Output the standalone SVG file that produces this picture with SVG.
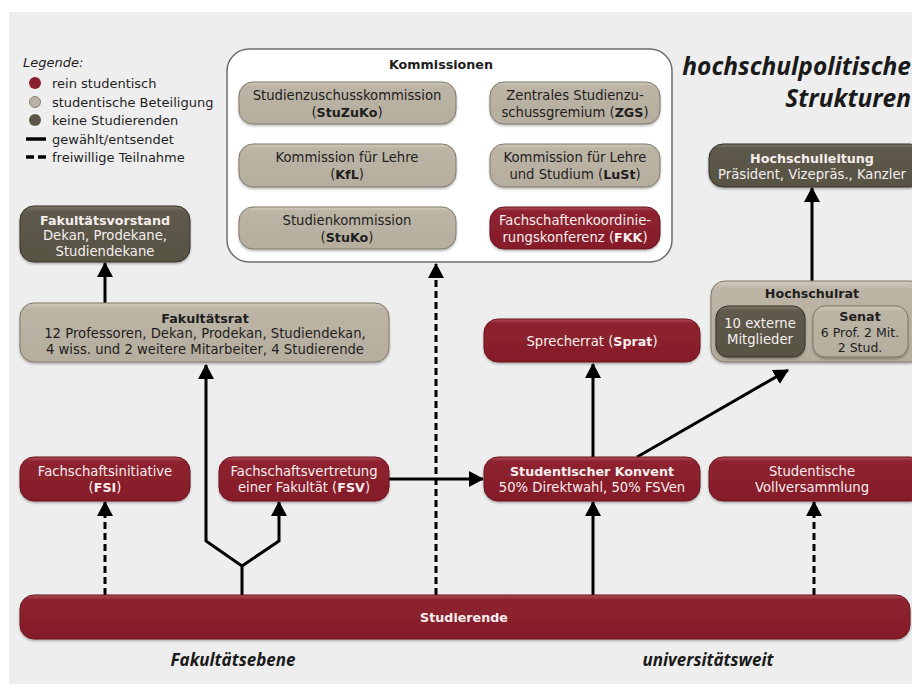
<svg xmlns="http://www.w3.org/2000/svg" width="912" height="684" viewBox="0 0 912 684">
<defs>
<style>
text{font-family:"DejaVu Sans","Liberation Sans",sans-serif;font-size:13.2px;}
.c{text-anchor:middle;}
.b{font-weight:bold;font-size:12.7px;}
.tw{fill:#f6eeee;}
.tk{fill:#1e1e1e;}
.sm{font-size:12.5px;}
.red{fill:url(#gRed);stroke:#6a141e;stroke-width:1;filter:url(#sh);}
.beige{fill:url(#gBeige);stroke:#7f7869;stroke-width:1;filter:url(#sh);}
.dark{fill:url(#gDark);stroke:#36332a;stroke-width:1;filter:url(#sh);}
.con{fill:none;stroke:#000;stroke-width:3;}
.dash{stroke-dasharray:7 4;}
.lbl{font-family:"Open Sans","Noto Sans",sans-serif;font-weight:bold;font-style:italic;font-size:17px;fill:#1a1a1a;}
.ti{font-family:"Open Sans","Noto Sans",sans-serif;font-weight:bold;font-style:italic;font-size:24.5px;fill:#1a1a1a;text-anchor:end;}
.leg{font-size:13px;fill:#1e1e1e;}
</style>
<linearGradient id="gRed" x1="0" y1="0" x2="0" y2="1">
<stop offset="0" stop-color="#b0505a"/><stop offset="0.1" stop-color="#8e2330"/><stop offset="1" stop-color="#851c28"/>
</linearGradient>
<linearGradient id="gBeige" x1="0" y1="0" x2="0" y2="1">
<stop offset="0" stop-color="#d2cbbd"/><stop offset="0.1" stop-color="#bcb4a5"/><stop offset="1" stop-color="#b5ad9e"/>
</linearGradient>
<linearGradient id="gDark" x1="0" y1="0" x2="0" y2="1">
<stop offset="0" stop-color="#7d7968"/><stop offset="0.1" stop-color="#5e5a4b"/><stop offset="1" stop-color="#575344"/>
</linearGradient>
<filter id="sh" x="-10%" y="-20%" width="120%" height="150%">
<feDropShadow dx="0" dy="1.5" stdDeviation="1.2" flood-color="#000" flood-opacity="0.3"/>
</filter>
<marker id="ah" markerUnits="userSpaceOnUse" markerWidth="16" markerHeight="16" refX="14" refY="8" orient="auto" viewBox="0 0 16 16">
<path d="M0,0 L15,8 L0,16 z" fill="#000"/>
</marker>
</defs>

<rect x="0" y="0" width="912" height="684" fill="#ffffff"/>
<rect x="9" y="12" width="903" height="672" fill="#eeeeee"/>

<g id="legend">
<text x="23" y="67" class="leg" font-style="italic">Legende:</text>
<circle cx="35" cy="83" r="6" fill="#8b1f2b"/>
<text x="52" y="88" class="leg">rein studentisch</text>
<circle cx="35" cy="102" r="5.5" fill="#b9b1a2" stroke="#8a8374" stroke-width="1"/>
<text x="52" y="107" class="leg">studentische Beteiligung</text>
<circle cx="35" cy="120" r="6" fill="#5b5748"/>
<text x="52" y="125" class="leg">keine Studierenden</text>
<line x1="26" y1="139" x2="46" y2="139" stroke="#000" stroke-width="3.5"/>
<text x="52" y="144" class="leg">gewählt/entsendet</text>
<line x1="26" y1="157" x2="46" y2="157" stroke="#000" stroke-width="3.5" stroke-dasharray="8 4"/>
<text x="52" y="162" class="leg">freiwillige Teilnahme</text>
</g>

<g id="title">
<text x="911" y="75" class="ti">hochschulpolitische</text>
<text x="911" y="107" class="ti">Strukturen</text>
</g>

<g id="connectors">
<path class="con" d="M105,303 V263" marker-end="url(#ah)"/>
<path class="con" d="M242,595 V566 L206,541 V365" marker-end="url(#ah)"/>
<path class="con" d="M242,566 L279,541 V502" marker-end="url(#ah)"/>
<path class="con dash" d="M105,595 V502" marker-end="url(#ah)"/>
<path class="con" d="M389,479 H483" marker-end="url(#ah)"/>
<path class="con dash" d="M436,595 V264" marker-end="url(#ah)"/>
<path class="con" d="M593,595 V502" marker-end="url(#ah)"/>
<path class="con" d="M593,457 V364" marker-end="url(#ah)"/>
<path class="con" d="M637,457 L788,370" marker-end="url(#ah)"/>
<path class="con dash" d="M814,595 V502" marker-end="url(#ah)"/>
<path class="con" d="M812,281 V188" marker-end="url(#ah)"/>
</g>

<g id="kommissionen">
<rect x="227" y="49" width="445" height="213" rx="22" fill="#ffffff" stroke="#6e6e6e" stroke-width="1.5"/>
<text x="441" y="69" class="c b tk">Kommissionen</text>
</g>
<g id="stuzuko">
<rect class="beige" x="239" y="82" width="217" height="42" rx="14"/>
<text x="347" y="100" class="c tk">Studienzuschusskommission</text>
<text x="347" y="117" class="c tk">(<tspan class="b">StuZuKo</tspan>)</text>
</g>
<g id="zgs">
<rect class="beige" x="490" y="82" width="170" height="42" rx="14"/>
<text x="575" y="100" class="c tk">Zentrales Studienzu-</text>
<text x="575" y="117" class="c tk">schussgremium (<tspan class="b">ZGS</tspan>)</text>
</g>
<g id="kfl">
<rect class="beige" x="239" y="144" width="217" height="43" rx="14"/>
<text x="347" y="162" class="c tk">Kommission für Lehre</text>
<text x="347" y="179" class="c tk">(<tspan class="b">KfL</tspan>)</text>
</g>
<g id="lust">
<rect class="beige" x="490" y="144" width="170" height="43" rx="14"/>
<text x="575" y="162" class="c tk">Kommission für Lehre</text>
<text x="575" y="179" class="c tk">und Studium (<tspan class="b">LuSt</tspan>)</text>
</g>
<g id="stuko">
<rect class="beige" x="239" y="207" width="217" height="42" rx="14"/>
<text x="347" y="225" class="c tk">Studienkommission</text>
<text x="347" y="242" class="c tk">(<tspan class="b">StuKo</tspan>)</text>
</g>
<g id="fkk">
<rect class="red" x="490" y="207" width="170" height="42" rx="14"/>
<text x="575" y="225" class="c tw">Fachschaftenkoordinie-</text>
<text x="575" y="242" class="c tw">rungskonferenz (<tspan class="b">FKK</tspan>)</text>
</g>

<g id="hochschulleitung">
<rect class="dark" x="709" y="144" width="215" height="43" rx="14"/>
<text x="812" y="162.5" class="c b tw">Hochschulleitung</text>
<text x="812" y="178.5" class="c tw">Präsident, Vizepräs., Kanzler</text>
</g>

<g id="fakultaetsvorstand">
<rect class="dark" x="20" y="206" width="170" height="56" rx="14"/>
<text x="105" y="224.5" class="c b tw">Fakultätsvorstand</text>
<text x="105" y="240" class="c tw">Dekan, Prodekane,</text>
<text x="105" y="255.5" class="c tw">Studiendekane</text>
</g>

<g id="fakultaetsrat">
<rect class="beige" x="20" y="303" width="369" height="59" rx="14"/>
<text x="205" y="322.5" class="c b tk">Fakultätsrat</text>
<text x="205" y="338" class="c tk">12 Professoren, Dekan, Prodekan, Studiendekan,</text>
<text x="205" y="353.5" class="c tk">4 wiss. und 2 weitere Mitarbeiter, 4 Studierende</text>
</g>

<g id="sprecherrat">
<rect class="red" x="484" y="319" width="216" height="43" rx="14"/>
<text x="592" y="346" class="c tw">Sprecherrat (<tspan class="b">Sprat</tspan>)</text>
</g>

<g id="hochschulrat">
<rect class="beige" x="711" y="281" width="213" height="81" rx="14"/>
<text x="812" y="298" class="c b tk">Hochschulrat</text>
<rect class="dark" x="716" y="306" width="89" height="51" rx="12"/>
<text x="760" y="328" class="c tw">10 externe</text>
<text x="760" y="344" class="c tw">Mitglieder</text>
<rect class="beige" x="813" y="306" width="95" height="51" rx="12"/>
<text x="860" y="321" class="c b tk">Senat</text>
<text x="860" y="336.5" class="c tk sm">6 Prof. 2 Mit.</text>
<text x="860" y="351.5" class="c tk sm">2 Stud.</text>
</g>

<g id="fsi">
<rect class="red" x="20" y="457" width="170" height="44" rx="14"/>
<text x="105" y="476" class="c tw">Fachschaftsinitiative</text>
<text x="105" y="492" class="c tw">(<tspan class="b">FSI</tspan>)</text>
</g>
<g id="fsv">
<rect class="red" x="219" y="457" width="170" height="44" rx="14"/>
<text x="304" y="476" class="c tw">Fachschaftsvertretung</text>
<text x="304" y="492" class="c tw">einer Fakultät (<tspan class="b">FSV</tspan>)</text>
</g>
<g id="konvent">
<rect class="red" x="484" y="457" width="216" height="44" rx="14"/>
<text x="592" y="476" class="c b tw">Studentischer Konvent</text>
<text x="592" y="492" class="c tw">50% Direktwahl, 50% FSVen</text>
</g>
<g id="vollversammlung">
<rect class="red" x="709" y="457" width="215" height="44" rx="14"/>
<text x="812" y="476" class="c tw">Studentische</text>
<text x="812" y="492" class="c tw">Vollversammlung</text>
</g>

<g id="studierende">
<rect class="red" x="20" y="595" width="890" height="44" rx="14"/>
<text x="464" y="622" class="c b tw">Studierende</text>
</g>

<g id="labels">
<text x="233" y="666" class="c lbl">Fakultätsebene</text>
<text x="708" y="666" class="c lbl">universitätsweit</text>
</g>
</svg>
